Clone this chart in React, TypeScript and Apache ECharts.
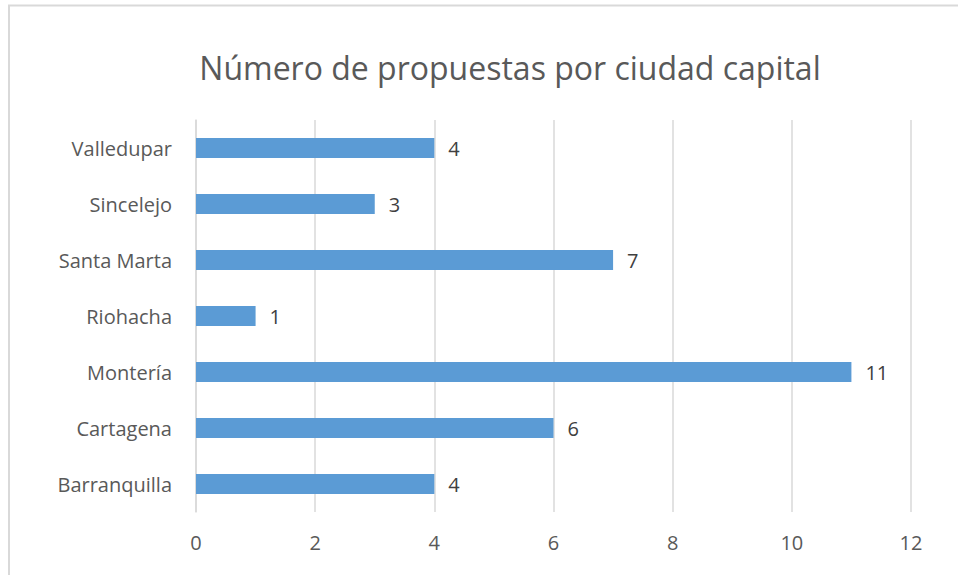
import React, { useEffect, useRef } from "react";
import * as echarts from "echarts";

const categories = ["Barranquilla", "Cartagena", "Montería", "Riohacha", "Santa Marta", "Sincelejo", "Valledupar"];
const values = [4, 6, 11, 1, 7, 3, 4];
const titleText = "Número de propuestas por ciudad capital";

export default function App() {
  const ref = useRef<HTMLDivElement>(null);
  useEffect(() => {
    if (!ref.current) return;
    const chart = echarts.init(ref.current, null, { renderer: "svg" });
    const font = "'Open Sans', sans-serif";
    chart.setOption({
      animation: false,
      backgroundColor: "#ffffff",
      title: {
        text: titleText,
        left: 505,
        top: 46,
        textAlign: "center",
        textStyle: { fontFamily: font, fontSize: 32, fontWeight: "normal", color: "#595959" },
      },
      graphic: [
        {
          type: "rect",
          shape: { x: 9, y: 5.5, width: 1000, height: 700 },
          style: { fill: "none", stroke: "#D9D9D9", lineWidth: 2 },
          silent: true,
        },
      ],
      grid: { left: 196, right: 47, top: 120, bottom: 63, containLabel: false },
      xAxis: {
        type: "value",
        min: 0,
        max: 12,
        interval: 2,
        axisLine: { show: false },
        axisTick: { show: false },
        splitLine: { show: true, lineStyle: { color: "#D9D9D9", width: 1.5 } },
        axisLabel: { fontFamily: font, fontSize: 20, color: "#595959", margin: 20 },
      },
      yAxis: {
        type: "category",
        data: categories,
        axisLine: { show: true, lineStyle: { color: "#D9D9D9", width: 1.5 } },
        axisTick: { show: false },
        axisLabel: { fontFamily: font, fontSize: 20, color: "#595959", margin: 24 },
      },
      series: [
        {
          type: "bar",
          data: values,
          barWidth: 20,
          itemStyle: { color: "#5B9BD5" },
          label: {
            show: true,
            position: "right",
            distance: 14,
            fontFamily: font,
            fontSize: 20,
            color: "#404040",
          },
        },
      ],
    });
    return () => chart.dispose();
  }, []);
  return (
    <div
      ref={ref}
      style={{ position: "fixed", left: 0, top: 0, width: 958, height: 575 }}
    />
  );
}
